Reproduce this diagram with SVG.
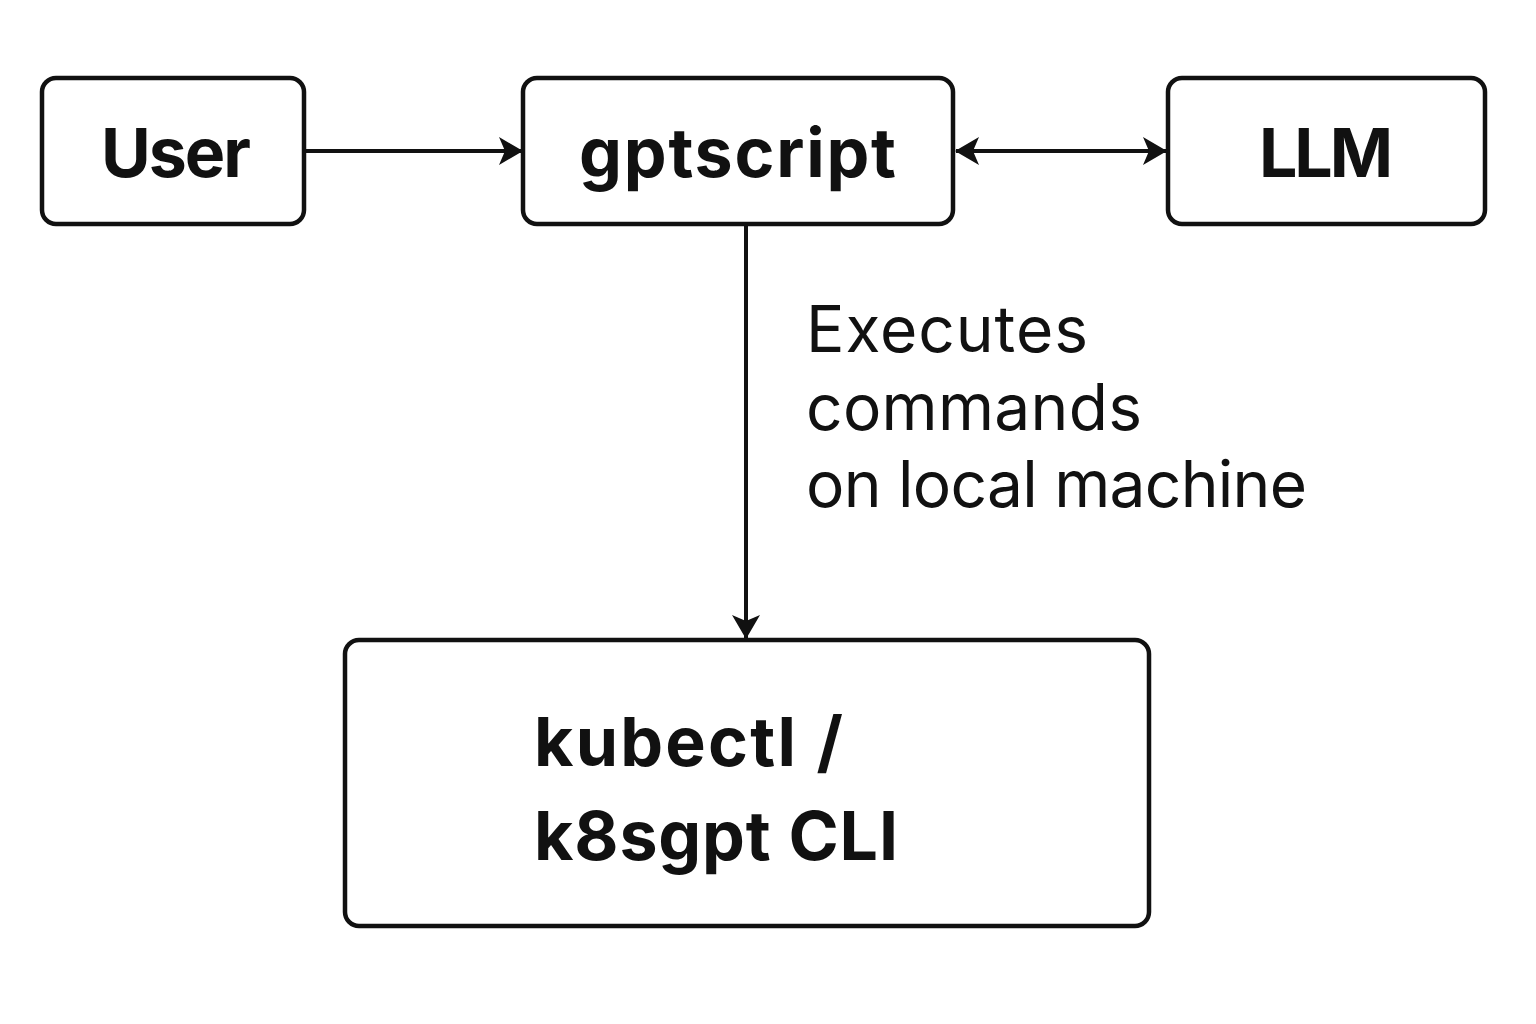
<svg xmlns="http://www.w3.org/2000/svg" width="1536" height="1024" viewBox="0 0 1536 1024">
<style>
.box{fill:#fff;stroke:#111;stroke-width:4.5}
.t{font-family:Inter,"Liberation Sans",sans-serif;font-weight:700;fill:#111;font-size:68px}
.lbl{font-family:Inter,"Liberation Sans",sans-serif;font-weight:400;fill:#111;font-size:64px}
.ln{stroke:#111;stroke-width:4;fill:none}
</style>
<defs>
<marker id="ah" viewBox="0 0 24 28" refX="23" refY="14" markerWidth="24" markerHeight="28" markerUnits="userSpaceOnUse" orient="auto-start-reverse">
<path d="M0,0 L24,14 L0,28 L6,14 Z" fill="#111"/>
</marker>
</defs>
<rect width="1536" height="1024" fill="#fff"/>
<g id="connectors">
<line class="ln" x1="305" y1="151" x2="522" y2="151" marker-end="url(#ah)"/>
<line class="ln" x1="956" y1="151" x2="1166" y2="151" marker-start="url(#ah)" marker-end="url(#ah)"/>
<line class="ln" x1="746" y1="226" x2="746" y2="638" marker-end="url(#ah)"/>
<g id="label-exec">
<text class="lbl" x="806" y="352" textLength="282" lengthAdjust="spacing">Executes</text>
<text class="lbl" x="806" y="430" textLength="336" lengthAdjust="spacing">commands</text>
<text class="lbl" x="806" y="507" textLength="501" lengthAdjust="spacing">on local machine</text>
</g>
</g>
<g id="user">
<rect class="box" x="42" y="78" width="262" height="146" rx="14"/>
<text class="t" x="101" y="177" textLength="150" lengthAdjust="spacing">User</text>
</g>
<g id="gptscript">
<rect class="box" x="523" y="78" width="430" height="146" rx="14"/>
<text class="t" x="579" y="177" textLength="317" lengthAdjust="spacing">gptscript</text>
</g>
<g id="llm">
<rect class="box" x="1168" y="78" width="317" height="146" rx="14"/>
<text class="t" x="1259" y="177" textLength="134" lengthAdjust="spacing">LLM</text>
</g>
<g id="kubectl">
<rect class="box" x="345" y="640" width="804" height="286" rx="14"/>
<text class="t" x="534" y="766" textLength="309" lengthAdjust="spacing">kubectl /</text>
<text class="t" x="534" y="860" textLength="364" lengthAdjust="spacing">k8sgpt CLI</text>
</g>
</svg>
